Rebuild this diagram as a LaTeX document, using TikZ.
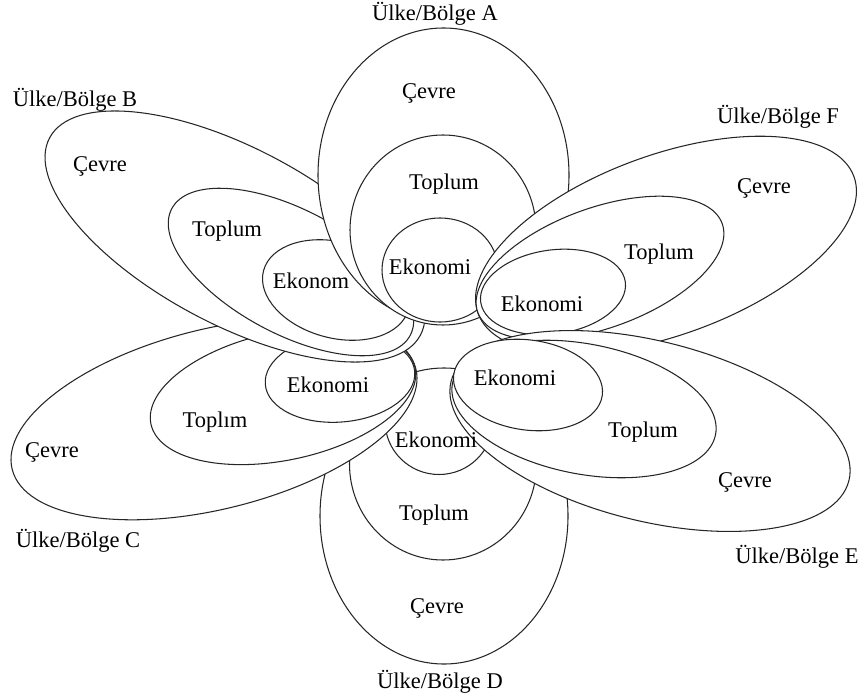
\documentclass[tikz,border=0pt]{standalone}
\usepackage{fontspec}
\setmainfont{Liberation Serif}
\begin{document}
\begin{tikzpicture}[
    x=0.02cm, y=-0.02cm,
    zone/.style={draw=black!85, fill=white, line width=0.6pt},
    lbl/.style={font=\fontsize{12.8}{15}\selectfont, inner sep=0pt},
    region/.style={font=\fontsize{12.8}{15}\selectfont, inner sep=0pt}
  ]
  \useasboundingbox[fill=white] (0,0) rectangle (865,696);

  % Region D
  \draw[zone] (444,516) ellipse (124 and 148);
  \begin{scope}
    \clip (0,395) rectangle (865,696);
    \draw[zone] (443,464) ellipse (93.5 and 96);
    \draw[zone] (439,421) ellipse (54 and 53.5);
  \end{scope}

  % Region C
  \draw[zone, rotate around={14:(214,419)}] (214,419) ellipse (208 and 90);
  \draw[zone, rotate around={12:(283,396)}] (283,396) ellipse (135 and 64);
  \draw[zone, rotate around={5:(340,378)}] (340,378) ellipse (75 and 44);

  % Region B
  \draw[zone, rotate around={-28:(235,236.5)}] (235,236.5) ellipse (210 and 88);
  \draw[zone, rotate around={-28:(291,272)}] (291,272) ellipse (135 and 62);
  \draw[zone, rotate around={-15:(336,290)}] (336,290) ellipse (75 and 48);

  % Region A
  \draw[zone] (443.5,175) ellipse (125.5 and 147);
  \draw[zone] (443,230) ellipse (93 and 95);
  \draw[zone] (440,270) ellipse (58 and 52);

  % Region F
  \draw[zone, rotate around={20:(666,245)}] (666,245) ellipse (200 and 90);
  \draw[zone, rotate around={20:(600,268)}] (600,268) ellipse (130 and 60);
  \draw[zone, rotate around={8:(553,292)}] (553,292) ellipse (73 and 42);

  % Region E
  \draw[zone, rotate around={-14:(650,431)}] (650,431) ellipse (205 and 90);
  \draw[zone, rotate around={-11:(584,409)}] (584,409) ellipse (134 and 65);
  \draw[zone, rotate around={-8:(528,385)}] (528,385) ellipse (75 and 45);

  % Labels inside
  \node[lbl] (cevreA) at (429,93) {Çevre};
  \node[lbl] (toplumA) at (444,184) {Toplum};
  \node[lbl] (ekoA) at (430,267) {Ekonomi};
  \node[lbl] (cevreB) at (100,166) {Çevre};
  \node[lbl] (toplumB) at (227,231) {Toplum};
  \node[lbl] (ekoB) at (311,281) {Ekonom};
  \node[lbl] (cevreC) at (52,452) {Çevre};
  \node[lbl] (toplumC) at (215,422) {Toplım};
  \node[lbl] (ekoC) at (328,385) {Ekonomi};
  \node[lbl] (cevreD) at (437,608) {Çevre};
  \node[lbl] (toplumD) at (434,515) {Toplum};
  \node[lbl] (ekoD) at (436,440) {Ekonomi};
  \node[lbl] (cevreE) at (745,482) {Çevre};
  \node[lbl] (toplumE) at (643,432) {Toplum};
  \node[lbl] (ekoE) at (515,378) {Ekonomi};
  \node[lbl] (cevreF) at (764,188) {Çevre};
  \node[lbl] (toplumF) at (659,254) {Toplum};
  \node[lbl] (ekoF) at (542,304) {Ekonomi};

  % Region names
  \node[region] (nameA) at (435,14) {Ülke/Bölge A};
  \node[region] (nameB) at (75,100) {Ülke/Bölge B};
  \node[region] (nameC) at (78,541) {Ülke/Bölge C};
  \node[region] (nameD) at (440,682) {Ülke/Bölge D};
  \node[region] (nameE) at (797,557) {Ülke/Bölge E};
  \node[region] (nameF) at (778,117) {Ülke/Bölge F};
\end{tikzpicture}
\end{document}
